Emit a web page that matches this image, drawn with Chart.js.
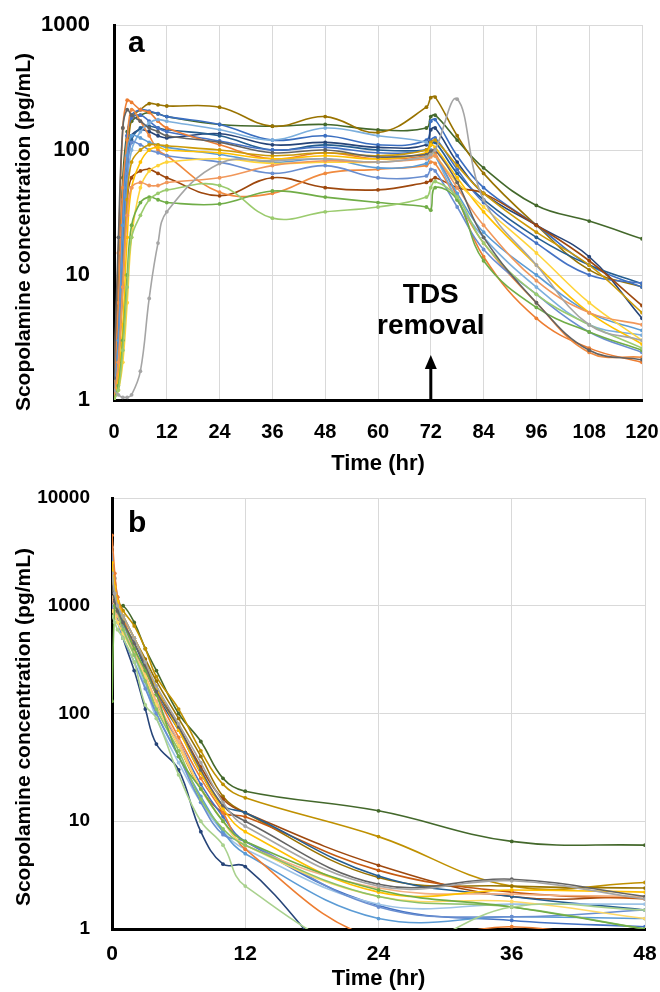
<!DOCTYPE html>
<html>
<head>
<meta charset="utf-8">
<script src="https://cdn.jsdelivr.net/npm/chart.js@4.4.1/dist/chart.umd.min.js"></script>
<style>
  html, body { margin: 0; padding: 0; background: #fff; }
  #wrapA { position: absolute; left: 0; top: 0; width: 660px; height: 480px; }
  #wrapB { position: absolute; left: 0; top: 480px; width: 660px; height: 512px; }
</style>
</head>
<body>
<div id="wrapA"><canvas id="chartA"></canvas></div>
<div id="wrapB"><canvas id="chartB"></canvas></div>
<script>
/* ── panel a : 72 h patch wear, sampling hours ─────────────────────────── */
const hoursA = [0, 1, 2, 3, 4, 6, 8, 10, 12, 24, 36, 48, 60, 71, 72, 73, 78, 84, 96, 108, 120];

const a01 = [1.3, 8, 60, 140, 170, 190, 200, 195, 185, 160, 155, 160, 145, 150, 185, 190, 120, 72, 36, 27, 19.5];
const a02 = [1, 2, 10, 70, 180, 210, 235, 230, 225, 220, 155, 185, 138, 220, 262, 265, 130, 65, 25, 11, 8];
const a03 = [1.2, 1.1, 1.05, 1.05, 1.1, 1.7, 6.5, 18, 32, 78, 82, 85, 80, 88, 92, 100, 255, 40, 12, 4, 3];
const a04 = [1.5, 20, 150, 210, 190, 170, 150, 140, 130, 115, 95, 100, 88, 92, 98, 100, 55, 20, 6, 2.5, 2.1];
const a05 = [1.2, 5, 40, 130, 180, 190, 170, 150, 140, 118, 100, 105, 95, 100, 120, 125, 70, 38, 18, 10, 8.6];
const a06 = [1.5, 15, 150, 250, 240, 210, 200, 170, 150, 110, 85, 95, 85, 90, 100, 95, 42, 14, 4.5, 2.6, 2.0];
const a07 = [1, 3, 25, 90, 130, 125, 115, 110, 105, 92, 80, 85, 72, 78, 95, 90, 45, 22, 10, 5, 3.6];
const a08 = [1, 1.5, 4, 20, 50, 80, 100, 105, 100, 95, 85, 90, 85, 95, 110, 105, 60, 32, 12, 5, 2.8];
const a09 = [1, 1.3, 3, 10, 25, 38, 42, 40, 38, 37, 47, 42, 38, 35, 33, 50, 40, 13, 5.5, 3.5, 2.5];
const a10 = [1, 1.2, 2.5, 8, 20, 30, 40, 45, 48, 52, 28.5, 32, 35, 42, 50, 56, 42, 18, 7, 4, 2.6];
const a11 = [1, 2, 12, 40, 60, 68, 70, 65, 60, 43, 60, 50, 48, 55, 57, 60, 50, 45, 25, 13, 5.7];
const a12 = [1.3, 6, 50, 120, 210, 170, 130, 100, 90, 46, 45, 65, 70, 75, 80, 78, 40, 18, 6, 2.4, 2.2];
const a13 = [1, 2, 15, 70, 120, 150, 155, 150, 145, 130, 100, 110, 100, 100, 110, 115, 65, 40, 20, 12, 8.5];
const a14 = [1, 3, 20, 80, 130, 145, 140, 130, 125, 135, 110, 115, 105, 110, 145, 150, 80, 45, 25, 14, 4.5];
const a15 = [1, 2, 8, 50, 100, 140, 165, 175, 170, 145, 120, 150, 130, 115, 100, 90, 40, 20, 8, 4, 3.3];
const a16 = [1, 1.2, 2, 6, 20, 50, 68, 75, 80, 85, 78, 80, 80, 88, 95, 90, 55, 35, 15, 6, 3.0];
const a17 = [1, 2, 12, 65, 115, 110, 100, 95, 90, 80, 65, 75, 60, 62, 70, 68, 35, 16, 7, 3.5, 2.4];
const a18 = [1, 2, 8, 30, 50, 55, 52, 52, 55, 60, 75, 82, 80, 85, 88, 90, 50, 25, 9, 5, 4.0];
const a19 = [1, 2, 8, 40, 80, 100, 110, 110, 108, 100, 90, 95, 90, 100, 115, 120, 75, 45, 22, 12, 5.0];
const a20 = [1.3, 4, 30, 130, 190, 210, 205, 195, 185, 160, 120, 130, 110, 120, 170, 175, 90, 50, 25, 12, 8.0];

const seriesA = [a03, a04, a10, a09, a18, a16, a08, a19, a17, a07, a15, a12, a06, a11, a05, a13, a14, a20, a02, a01];
const colorsA = ['#A5A5A5', '#636363', '#9BCB6E', '#70AD47', '#F1975A', '#FFD43B', '#FFC000', '#CC9A06',
                 '#698ED0', '#5B9BD5', '#7CAFDD', '#F08A3E', '#ED7D31', '#9E480E', '#4472C4', '#255E91',
                 '#264478', '#3A6EC0', '#997300', '#43682B'];
const ticksA = [1, 10, 100, 1000];
const removalHour = 72;

/* ── panel b : after removal, sampling hours ───────────────────────────── */
const hoursB = [0, 0.25, 0.5, 1, 2, 3, 4, 6, 8, 10, 12, 24, 36, 48];

const b01 = [1200, 1000, 950, 1000, 700, 400, 250, 100, 55, 25, 19, 12.5, 6.5, 6.0];
const b02 = [2500, 1800, 1200, 900, 650, 400, 220, 110, 45, 22, 16.5, 7.2, 2.5, 2.7];
const b03 = [2000, 1200, 800, 500, 250, 110, 52, 30, 8, 4, 3.8, 0.25, 0.2, 0.2];
const b04 = [800, 700, 600, 500, 300, 120, 90, 27, 10, 6, 2.5, 0.6, 1.6, 1.5];
const b05 = [4500, 2000, 1200, 800, 400, 250, 150, 60, 25, 12, 5.5, 0.8, 1.05, 0.7];
const b06 = [130, 1000, 900, 700, 400, 250, 150, 40, 20, 10, 6.5, 2.3, 1.6, 1.0];
const b07 = [3000, 1500, 1000, 700, 400, 200, 100, 40, 17, 8, 5, 1.25, 1.3, 1.25];
const b08 = [1500, 1200, 900, 650, 350, 200, 120, 55, 22, 11, 6.5, 1.65, 1.2, 1.05];
const b09 = [2000, 1300, 1000, 800, 500, 300, 180, 80, 35, 15, 9, 2.5, 2.8, 1.9];
const b10 = [1500, 1100, 900, 700, 450, 280, 160, 75, 30, 14, 10, 2.6, 2.9, 2.0];
const b11 = [2500, 1500, 1100, 800, 500, 300, 170, 70, 28, 13, 8, 2.2, 2.3, 2.2];
const b12 = [1800, 1200, 1000, 800, 500, 300, 170, 75, 32, 16, 12, 3.9, 2.0, 2.0];
const b13 = [2200, 1300, 1000, 700, 450, 260, 150, 70, 28, 14, 12, 3.1, 2.0, 1.5];
const b14 = [1200, 900, 800, 600, 380, 230, 130, 55, 20, 10, 6, 2.4, 2.1, 2.0];
const b15 = [900, 800, 700, 550, 350, 220, 120, 50, 20, 10, 6, 2.0, 1.8, 1.25];
const b16 = [3500, 1800, 1200, 700, 350, 180, 90, 35, 15, 8, 5.5, 1.7, 1.7, 1.7];
const b17 = [1000, 800, 700, 500, 300, 170, 100, 40, 15, 7.5, 6.5, 1.6, 1.3, 1.5];
const b18 = [2500, 1400, 1000, 700, 400, 220, 120, 50, 20, 12, 11, 3.5, 2.2, 1.9];
const b19 = [2000, 1300, 1000, 800, 500, 320, 200, 90, 40, 17, 12, 3.0, 2.5, 2.4];
const b20 = [2000, 1200, 900, 600, 350, 200, 110, 45, 16, 8.5, 6, 2.0, 1.6, 1.0];

const seriesB = [b09, b10, b04, b06, b20, b15, b11, b14, b05, b17, b07, b16, b08, b13, b18, b12, b19, b03, b02, b01];
const colorsB = ['#A5A5A5', '#636363', '#A9D18E', '#70AD47', '#8CC168', '#FFD966', '#FFC000', '#F4B183',
                 '#ED7D31', '#698ED0', '#5B9BD5', '#9DC3E6', '#4472C4', '#255E91', '#C55A11', '#9E480E',
                 '#997300', '#264478', '#BF9000', '#43682B'];
const ticksB = [1, 10, 100, 1000, 10000];

const FONT = '"Liberation Sans", Arial, sans-serif';
const Y_TITLE = 'Scopolamine concentration (pg/mL)';

// letter, rotated y title and (panel a) the removal arrow
const panelText = {
  id: 'panelText',
  afterDraw(chart, args, o) {
    const ctx = chart.ctx;
    ctx.save();
    ctx.fillStyle = '#000';
    ctx.font = 'bold 30px ' + FONT;
    ctx.textAlign = 'left';
    ctx.textBaseline = 'alphabetic';
    ctx.fillText(o.letter, o.letterX, o.letterY);

    if (o.removal !== undefined) {
      const x = chart.scales.x.getPixelForValue(o.removal);
      const b = chart.chartArea.bottom;
      ctx.strokeStyle = '#000';
      ctx.lineWidth = 3;
      ctx.beginPath();
      ctx.moveTo(x, b);
      ctx.lineTo(x, b - 34);
      ctx.stroke();
      ctx.beginPath();
      ctx.moveTo(x, b - 45);
      ctx.lineTo(x - 6, b - 31);
      ctx.lineTo(x + 6, b - 31);
      ctx.closePath();
      ctx.fill();
      ctx.font = 'bold 28px ' + FONT;
      ctx.textAlign = 'center';
      ctx.fillText('TDS', x, b - 97);
      ctx.fillText('removal', x, b - 66);
    }

    ctx.translate(o.titleX, o.titleY);
    ctx.rotate(-Math.PI / 2);
    ctx.font = 'bold 21px ' + FONT;
    ctx.textAlign = 'center';
    ctx.textBaseline = 'middle';
    ctx.fillText(Y_TITLE, 0, 0);
    ctx.restore();
  }
};

// label offsets come from invisible tick marks, so ticks.padding stays 0
// (chart.js adds ticks.padding to the edge overflow of the end labels)
function makeChart(id, hours, series, colors, yTicks, cfg) {
  return new Chart(document.getElementById(id), {
    type: 'line',
    data: {
      datasets: series.map((vals, i) => ({
        data: vals.map((v, j) => ({ x: hours[j], y: v })),
        borderColor: colors[i],
        backgroundColor: colors[i],
        borderWidth: 1.6,
        pointRadius: 1.9,
        pointBorderWidth: 0,
        tension: 0.4,
        fill: false
      }))
    },
    options: {
      responsive: true, maintainAspectRatio: false,
      animation: false,
      events: [],
      layout: { padding: cfg.padding },
      plugins: {
        legend: { display: false },
        tooltip: { enabled: false },
        panelText: cfg.text
      },
      scales: {
        x: {
          type: 'linear', min: 0, max: cfg.xMax,
          ticks: { stepSize: 12, padding: 0, color: '#000', font: { family: FONT, size: cfg.xTickSize, weight: 'bold' } },
          grid: { color: '#d9d9d9', drawTicks: true, tickLength: cfg.xTickPad, tickColor: 'rgba(0,0,0,0)' },
          border: { color: '#000', width: 3 },
          title: { display: true, text: 'Time (hr)', color: '#000',
                   font: { family: FONT, size: 22, weight: 'bold' },
                   padding: { top: 0, bottom: cfg.xTitlePad } },
          afterFit: s => { s.height = cfg.xHeight; }
        },
        y: {
          type: 'logarithmic', min: 1, max: yTicks[yTicks.length - 1],
          afterBuildTicks: s => { s.ticks = yTicks.map(v => ({ value: v })); },
          ticks: { padding: 0, color: '#000', callback: v => String(v),
                   font: { family: FONT, size: cfg.yTickSize, weight: 'bold' } },
          grid: { color: '#d9d9d9', drawTicks: true, tickLength: cfg.yTickPad, tickColor: 'rgba(0,0,0,0)' },
          border: { color: '#000', width: 3 },
          afterFit: s => { s.width = cfg.yWidth; }
        }
      }
    },
    plugins: [panelText]
  });
}

makeChart('chartA', hoursA, seriesA, colorsA, ticksA, {
  padding: { top: 25, right: 18, left: 0, bottom: 0 },
  xMax: 120, xTickPad: 20, xTickSize: 20, xTitlePad: 3, xHeight: 80,
  yTickPad: 24, yTickSize: 22, yWidth: 114,
  text: { letter: 'a', letterX: 128, letterY: 52, titleX: 24, titleY: 232, removal: removalHour }
});

makeChart('chartB', hoursB, seriesB, colorsB, ticksB, {
  padding: { top: 18, right: 15, left: 0, bottom: 0 },
  xMax: 48, xTickPad: 13, xTickSize: 21, xTitlePad: 0, xHeight: 63,
  yTickPad: 22, yTickSize: 19, yWidth: 112,
  text: { letter: 'b', letterX: 128, letterY: 52, titleX: 24, titleY: 247 }
});
</script>
</body>
</html>
